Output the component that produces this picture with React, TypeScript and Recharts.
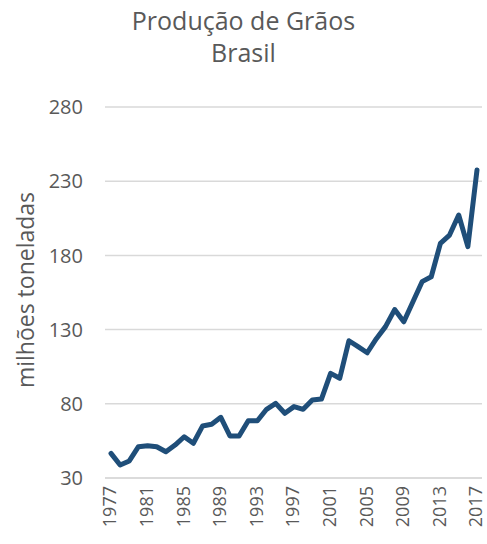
import { LineChart, Line, XAxis, YAxis, CartesianGrid } from 'recharts'

const years = [
  '1977', '1978', '1979', '1980', '1981', '1982', '1983', '1984', '1985', '1986',
  '1987', '1988', '1989', '1990', '1991', '1992', '1993', '1994', '1995', '1996',
  '1997', '1998', '1999', '2000', '2001', '2002', '2003', '2004', '2005', '2006',
  '2007', '2008', '2009', '2010', '2011', '2012', '2013', '2014', '2015', '2016',
  '2017',
]

const production = [
  46.6, 38.8, 41.5, 51.1, 51.8, 51.1, 47.7, 52.2, 57.8, 53.4,
  65.0, 66.2, 70.9, 58.3, 58.3, 68.6, 68.6, 76.3, 80.3, 73.6,
  78.1, 76.3, 82.6, 83.2, 100.5, 97.2, 122.5, 118.5, 114.4, 123.9,
  132.0, 143.5, 135.3, 148.8, 162.3, 165.6, 188.1, 193.7, 207.2, 185.9,
  237.5,
]

const yTicks = [30, 80, 130, 180, 230, 280]

const data = years.map((year, i) => ({ year, value: production[i] }))

const FONT = '"Open Sans", sans-serif'
const GRAY = '#595959'

function YearTick({ x, y, payload }: any) {
  return (
    <text
      x={x}
      y={y}
      transform={`rotate(-90 ${x} ${y})`}
      textAnchor="end"
      dy="0.3em"
      fontSize={18}
      fontFamily={FONT}
      fill={GRAY}
    >
      {payload.value}
    </text>
  )
}

export default function App() {
  return (
    <div style={{ position: 'absolute', left: 0, top: 0, width: 487, height: 544, background: '#fff', fontFamily: FONT }}>
      <div style={{ position: 'absolute', left: 0, top: 4, width: 487, textAlign: 'center', color: GRAY, fontSize: 25, lineHeight: '32px' }}>
        Produção de Grãos
        <br />
        Brasil
      </div>
      <div
        style={{
          position: 'absolute',
          left: 25,
          top: 290,
          transform: 'translate(-50%, -50%) rotate(-90deg)',
          whiteSpace: 'nowrap',
          color: GRAY,
          fontSize: 23,
        }}
      >
        milhões toneladas
      </div>
      <LineChart width={487} height={544} data={data} margin={{ top: 107, right: 5, bottom: 0, left: 0 }}>
        <CartesianGrid vertical={false} stroke="#d9d9d9" strokeWidth={1.5} />
        <XAxis
          dataKey="year"
          interval={3}
          height={66}
          padding={{ left: 6, right: 5 }}
          tickLine={false}
          axisLine={{ stroke: '#d9d9d9', strokeWidth: 1.5 }}
          tick={<YearTick />}
        />
        <YAxis
          width={105}
          domain={[30, 280]}
          ticks={yTicks}
          axisLine={false}
          tickLine={false}
          tickMargin={16}
          tick={{ fontSize: 20, fill: GRAY, fontFamily: FONT }}
        />
        <Line
          type="linear"
          dataKey="value"
          stroke="#1f4e79"
          strokeWidth={5}
          dot={false}
          strokeLinejoin="round"
          strokeLinecap="round"
          isAnimationActive={false}
        />
      </LineChart>
    </div>
  )
}
